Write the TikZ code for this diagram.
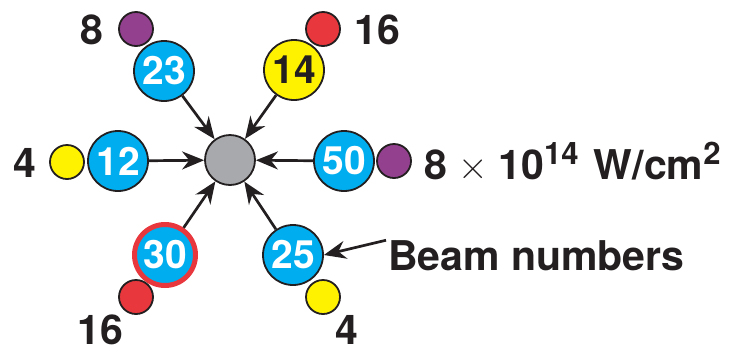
\documentclass[tikz,border=0pt]{standalone}
\usepackage{fontspec}
\setmainfont{TeX Gyre Heros}
\newfontfamily\lmrom{Latin Modern Roman}
\usetikzlibrary{arrows.meta}
\definecolor{beamblue}{HTML}{00AEEF}
\definecolor{bpurple}{HTML}{93408F}
\definecolor{byellow}{HTML}{FFF200}
\definecolor{bred}{HTML}{E8383D}
\definecolor{bgray}{HTML}{A7A9AC}
\definecolor{ink}{HTML}{231F20}
\tikzset{
  beam/.style={circle, draw=ink, line width=1.8pt, fill=beamblue, minimum size=60pt, inner sep=0pt, text=white, font=\fontsize{39}{40}\selectfont\bfseries},
  dot/.style={circle, draw=ink, line width=1.8pt, minimum size=34pt, inner sep=0pt},
  lbl/.style={text=ink, font=\fontsize{41}{44}\selectfont\bfseries, inner sep=0pt},
  arr/.style={draw=ink, line width=2.7pt, -{Stealth[length=22pt, width=18pt]}}
}
\begin{document}
\begin{tikzpicture}[x=1pt, y=-1pt]
\useasboundingbox (0,0) rectangle (735,354);
\node[circle, draw=ink, line width=1.8pt, fill=bgray, minimum size=50pt, inner sep=0pt] (c) at (230,160) {};
% beams
\node[beam] (b23) at (164,71) {23};
\node[beam, fill=byellow, text=ink] (b14) at (294,70) {14};
\node[beam] (b12) at (118,161) {12};
\node[beam] (b50) at (344,161) {50};
\node[beam, draw=bred, line width=5pt, minimum size=61pt] (b30) at (165,255) {30};
\node[beam] (b25) at (293,255) {25};
% dots
\node[dot, fill=bpurple] (d23) at (136,29) {};
\node[dot, fill=bred] (d14) at (323,29) {};
\node[dot, fill=byellow] (d12) at (67,162) {};
\node[dot, fill=bpurple] (d50) at (394,161) {};
\node[dot, fill=bred] (d30) at (136,297) {};
\node[dot, fill=byellow] (d25) at (323,297) {};
% labels
\node[lbl] (l8) at (92,30) {8};
\node[lbl] (l16a) at (377,30) {16};
\node[lbl] (l4a) at (25,163) {4};
\node[lbl] (l16b) at (100,330) {16};
\node[lbl] (l4b) at (347,330) {4};
\node[lbl, anchor=base west] (intens) at (424,179) {8\hspace{11pt}{\lmrom\mdseries ×}\hspace{11pt}10\raisebox{15pt}{\fontsize{31}{32}\selectfont 14}\hspace{4pt} W/cm\raisebox{15pt}{\fontsize{31}{32}\selectfont 2}};
\node[lbl, anchor=base west] (bn) at (388,270) {Beam numbers};
% arrows
\foreach \b in {b23,b14,b12,b50,b30,b25} \draw[arr] (\b) -- (c);
\draw[arr] (bn.west) ++(-2,-15) coordinate (bs) (bs) -- (b25.east);
\end{tikzpicture}
\end{document}
